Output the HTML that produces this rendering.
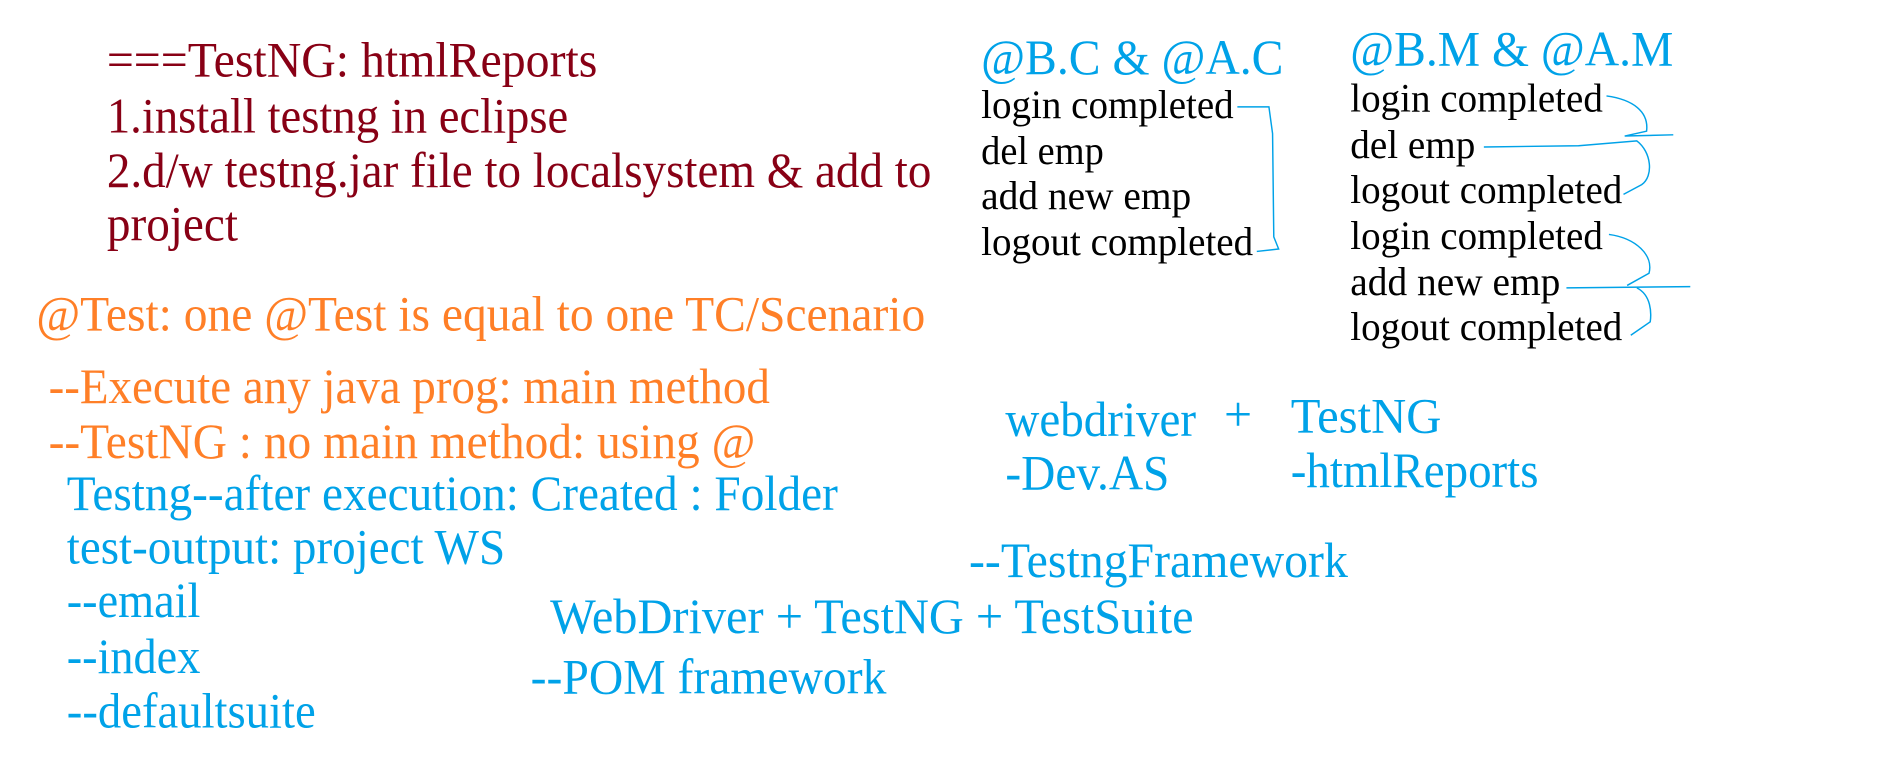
<!DOCTYPE html>
<html><head><meta charset="utf-8"><style>html,body{margin:0;padding:0;background:#fff;overflow:hidden}svg{display:block}</style></head>
<body>
<svg width="1904" height="764" viewBox="0 0 1568 629" preserveAspectRatio="none" xmlns="http://www.w3.org/2000/svg" font-family="Liberation Serif, serif">
<g fill="#880015" font-size="41">
<text x="88" y="63" textLength="404" lengthAdjust="spacingAndGlyphs">===TestNG: htmlReports</text>
<text x="88" y="109" textLength="380" lengthAdjust="spacingAndGlyphs">1.install testng in eclipse</text>
<text x="88" y="154" textLength="679" lengthAdjust="spacingAndGlyphs">2.d/w testng.jar file to localsystem &amp; add to</text>
<text x="88" y="198" textLength="108" lengthAdjust="spacingAndGlyphs">project</text>
</g>
<g fill="#FF7F27" font-size="41">
<text x="30" y="272" textLength="732" lengthAdjust="spacingAndGlyphs">@Test: one @Test is equal to one TC/Scenario</text>
<text x="40" y="332" textLength="594" lengthAdjust="spacingAndGlyphs">--Execute any java prog: main method</text>
<text x="40" y="377" textLength="582" lengthAdjust="spacingAndGlyphs">--TestNG : no main method: using @</text>
</g>
<g fill="#00A2E8" font-size="41">
<text x="55" y="420" textLength="635" lengthAdjust="spacingAndGlyphs">Testng--after execution: Created : Folder</text>
<text x="55" y="464" textLength="361" lengthAdjust="spacingAndGlyphs">test-output: project WS</text>
<text x="55" y="508" textLength="110" lengthAdjust="spacingAndGlyphs">--email</text>
<text x="55" y="554" textLength="110" lengthAdjust="spacingAndGlyphs">--index</text>
<text x="55" y="599" textLength="205" lengthAdjust="spacingAndGlyphs">--defaultsuite</text>
<text x="453" y="521" textLength="530" lengthAdjust="spacingAndGlyphs">WebDriver + TestNG + TestSuite</text>
<text x="437" y="571" textLength="293" lengthAdjust="spacingAndGlyphs">--POM framework</text>
<text x="798" y="475" textLength="312" lengthAdjust="spacingAndGlyphs">--TestngFramework</text>
<text x="828" y="359" textLength="157" lengthAdjust="spacingAndGlyphs">webdriver</text>
<text x="1008" y="355">+</text>
<text x="1063" y="356" textLength="124" lengthAdjust="spacingAndGlyphs">TestNG</text>
<text x="828" y="403" textLength="135" lengthAdjust="spacingAndGlyphs">-Dev.AS</text>
<text x="1063" y="401" textLength="204" lengthAdjust="spacingAndGlyphs">-htmlReports</text>
<text x="808" y="61" textLength="249" lengthAdjust="spacingAndGlyphs">@B.C &amp; @A.C</text>
<text x="1112" y="54" textLength="266" lengthAdjust="spacingAndGlyphs">@B.M &amp; @A.M</text>
</g>
<g fill="#000" font-size="33">
<text x="808" y="97" textLength="208" lengthAdjust="spacingAndGlyphs">login completed</text>
<text x="808" y="135" textLength="101" lengthAdjust="spacingAndGlyphs">del emp</text>
<text x="808" y="172" textLength="173" lengthAdjust="spacingAndGlyphs">add new emp</text>
<text x="808" y="210" textLength="224" lengthAdjust="spacingAndGlyphs">logout completed</text>
<text x="1112" y="92" textLength="208" lengthAdjust="spacingAndGlyphs">login completed</text>
<text x="1112" y="130" textLength="103" lengthAdjust="spacingAndGlyphs">del emp</text>
<text x="1112" y="167" textLength="224" lengthAdjust="spacingAndGlyphs">logout completed</text>
<text x="1112" y="205" textLength="208" lengthAdjust="spacingAndGlyphs">login completed</text>
<text x="1112" y="243" textLength="173" lengthAdjust="spacingAndGlyphs">add new emp</text>
<text x="1112" y="280" textLength="224" lengthAdjust="spacingAndGlyphs">logout completed</text>
</g>
<g fill="none" stroke="#00A2E8" stroke-width="1.2">
<path d="M1019 88 L1045 88 L1048 110 L1049 195 L1053 205 L1035 207"/>
<path d="M1323 79 C1345 82 1358 92 1356 108 L1338 112 L1378 111"/>
<path d="M1222 121 L1300 120 L1348 116 C1360 125 1362 145 1352 152 L1337 160"/>
<path d="M1325 193 C1347 196 1362 210 1358 225 L1340 235"/>
<path d="M1290 237 L1392 236"/>
<path d="M1348 237 C1360 243 1360 258 1359 265 L1343 276"/>
</g>
</svg>
</body></html>
